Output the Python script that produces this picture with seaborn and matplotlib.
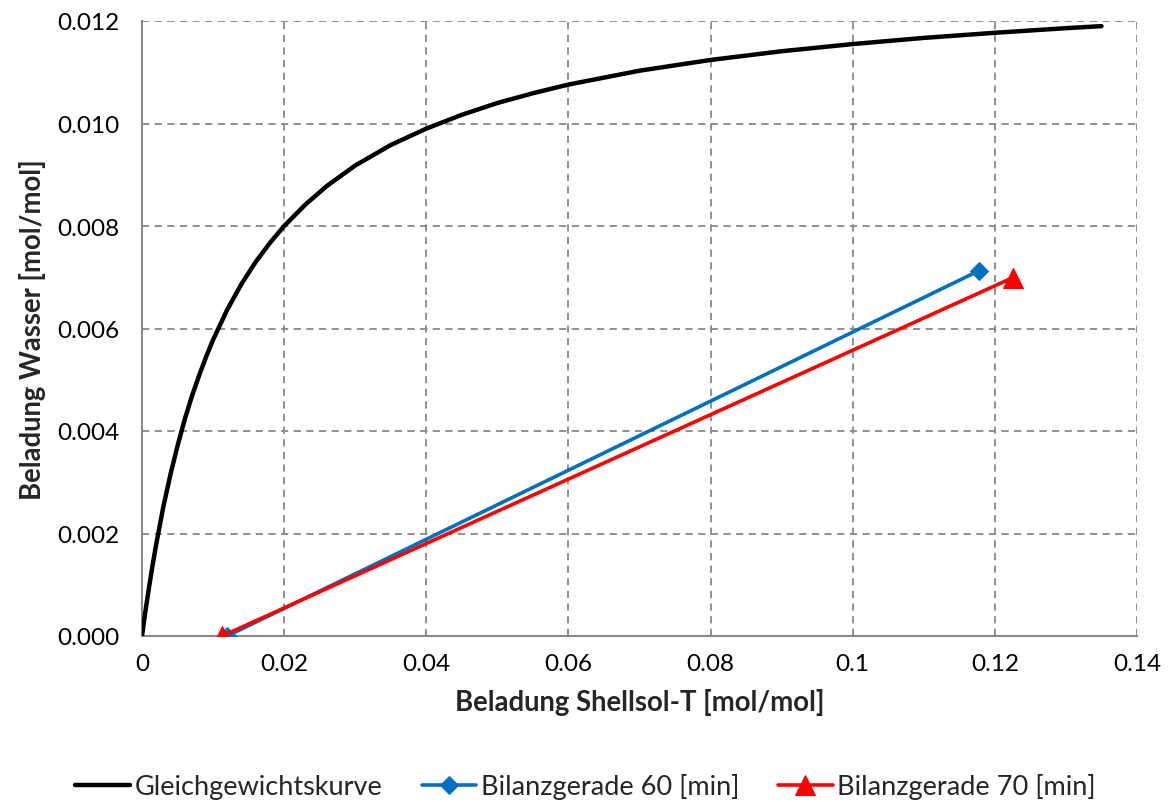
import numpy as np
import pandas as pd
import matplotlib
matplotlib.use("Agg")
import matplotlib.pyplot as plt
import seaborn as sns

# Equilibrium curve
eq_x = [0, 0.0005, 0.001, 0.0015, 0.002, 0.003, 0.004, 0.005, 0.006, 0.007, 0.008, 0.009,
        0.010, 0.012, 0.014, 0.016, 0.018, 0.020, 0.023, 0.026, 0.030, 0.035, 0.040, 0.045,
        0.050, 0.055, 0.060, 0.070, 0.080, 0.090, 0.100, 0.110, 0.120, 0.130, 0.135]
eq_y = [0, 0.0005, 0.00096, 0.00139, 0.00179, 0.00252, 0.00315, 0.00371, 0.00422, 0.00467, 0.00507, 0.00544,
        0.00578, 0.00637, 0.00687, 0.0073, 0.00767, 0.0080, 0.00842, 0.00878, 0.00918, 0.00958, 0.0099, 0.01017,
        0.0104, 0.01059, 0.01076, 0.01103, 0.01124, 0.01141, 0.01155, 0.01167, 0.01177, 0.01186, 0.0119]

# Operating lines
b60_x = [0.0120, 0.1178]
b60_y = [0.0, 0.00713]
b70_x = [0.0113, 0.1225]
b70_y = [0.0, 0.00699]

labels = ["Gleichgewichtskurve", "Bilanzgerade 60 [min]", "Bilanzgerade 70 [min]"]
x_ticks = [0, 0.02, 0.04, 0.06, 0.08, 0.1, 0.12, 0.14]
x_ticklabels = ["0", "0.02", "0.04", "0.06", "0.08", "0.1", "0.12", "0.14"]
y_ticks = [0, 0.002, 0.004, 0.006, 0.008, 0.010, 0.012]
y_ticklabels = ["0.000", "0.002", "0.004", "0.006", "0.008", "0.010", "0.012"]

sns.set_theme(style="white")
plt.rcParams['font.family'] = ['Lato', 'DejaVu Sans']

fig = plt.figure(figsize=(11.69, 8.03), dpi=100)
ax = fig.add_axes([142/1169, 1 - 637/803, (1137-142)/1169, (637-22)/803])

df_eq = pd.DataFrame({"x": eq_x, "y": eq_y})
df60 = pd.DataFrame({"x": b60_x, "y": b60_y})
df70 = pd.DataFrame({"x": b70_x, "y": b70_y})

sns.lineplot(data=df_eq, x="x", y="y", sort=False, ax=ax, color="black", lw=3.2,
             label=labels[0], zorder=3, solid_joinstyle="round")
sns.lineplot(data=df60, x="x", y="y", sort=False, ax=ax, color="#0070C0", lw=2.6,
             marker="D", markersize=9, markeredgecolor="#0070C0", label=labels[1], zorder=4)
sns.lineplot(data=df70, x="x", y="y", sort=False, ax=ax, color="#FF0000", lw=2.6,
             marker="^", markersize=14, markeredgecolor="#FF0000", label=labels[2], zorder=5)

ax.set_xlim(0, 0.14)
ax.set_ylim(0, 0.012)
ax.set_xticks(x_ticks)
ax.set_xticklabels(x_ticklabels)
ax.set_yticks(y_ticks)
ax.set_yticklabels(y_ticklabels)
ax.tick_params(axis="both", labelsize=17.5, colors="black", length=0, pad=8)
ax.tick_params(axis="y", length=8, color="#888888", direction="out", width=1.5)
ax.tick_params(axis="x", length=8, color="#888888", direction="inout", width=1.5)

ax.grid(True, color="#888888", linestyle=(0, (4, 3)), linewidth=1.3)
for s in ["top", "right"]:
    ax.spines[s].set_visible(False)
for s in ["left", "bottom"]:
    ax.spines[s].set_color("#888888")
    ax.spines[s].set_linewidth(1.5)
ax.set_axisbelow(True)

ax.set_xlabel("Beladung Shellsol-T [mol/mol]", fontsize=19.8, fontweight="bold", labelpad=10)
ax.set_ylabel("Beladung Wasser [mol/mol]", fontsize=19.8, fontweight="bold", labelpad=8)

ax.legend(loc="center", bbox_to_anchor=(0.446, -(787 - 637) / 615), ncol=3, frameon=False,
          fontsize=19.5, handlelength=2.0, columnspacing=1.45, handletextpad=0.18,
          borderaxespad=0)

fig.savefig("out.png", dpi=100)
